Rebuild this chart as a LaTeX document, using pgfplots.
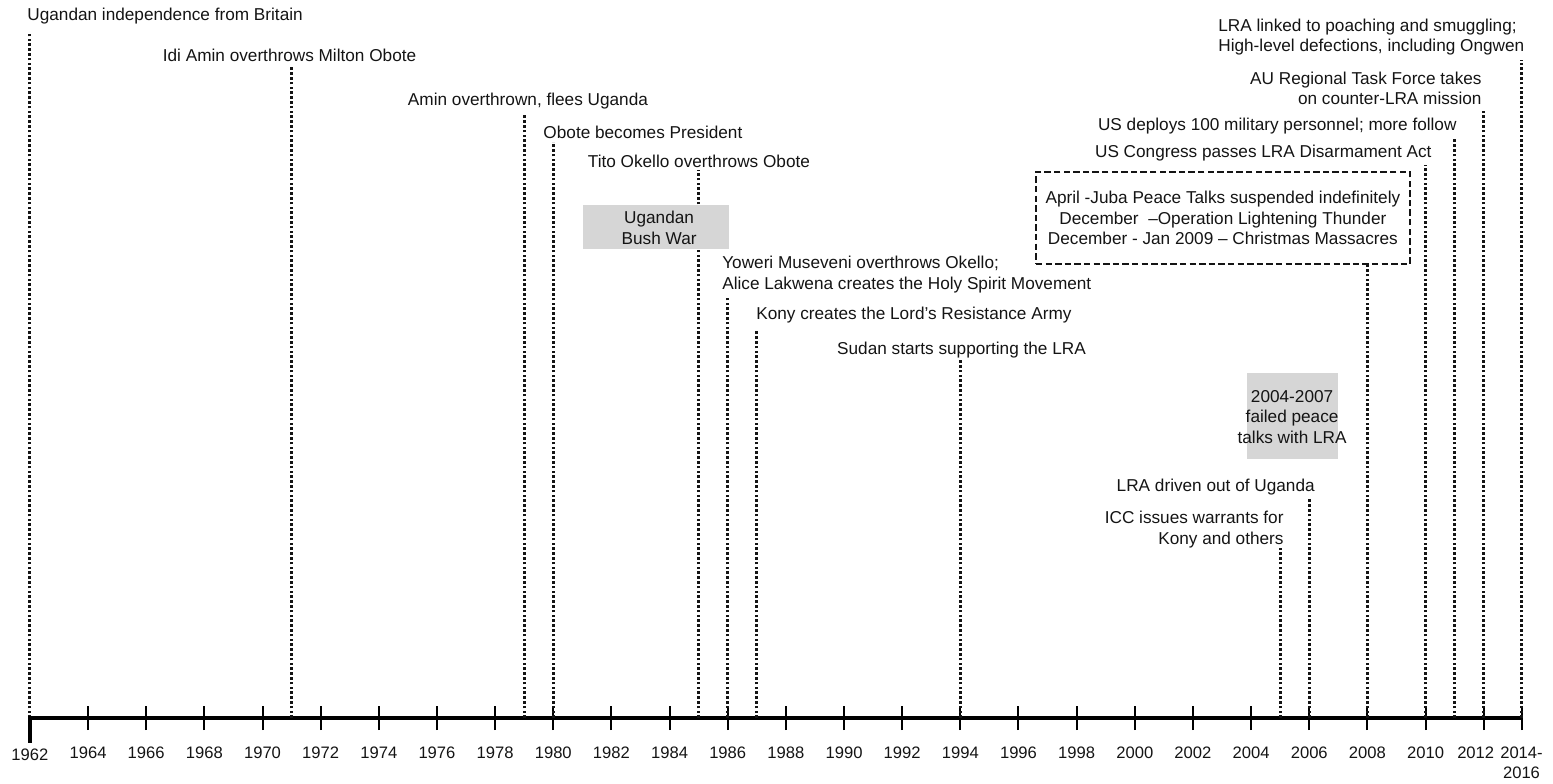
\documentclass[border=0pt]{standalone}
\usepackage{fontspec}
\setmainfont{Liberation Sans}
\usepackage{pgfplots}
\usepackage{pgfplotstable}
\pgfplotsset{compat=1.18}
\definecolor{txt}{HTML}{141414}
\definecolor{boxgray}{HTML}{D6D6D6}

\pgfplotstableread{
year h
1962 686
1971 651
1979 603
1980 576
1985 548
1986 422
1987 388
1994 358
2005 170
2006 220
2008 454
2010 553
2011 580
2012 608
2013.3 658
}\events

\begin{document}
\begin{tikzpicture}[ev/.style={font=\fontsize{8.6}{10.3}\selectfont, text=txt, inner sep=0pt}]
\begin{axis}[
  scale only axis, width=745.8pt, height=359pt,
  xmin=1962, xmax=2013.3, ymin=0, ymax=718,
  axis x line*=bottom, axis y line=none,
  clip=false,
  axis line style={line width=2.25pt, black, line cap=butt},
  xtick={1964,1966,1968,1970,1972,1974,1976,1978,1980,1982,1984,1986,1988,1990,1992,1994,1996,1998,2000,2002,2004,2006,2008,2010,2012,2013.3},
  xticklabels={1964,1966,1968,1970,1972,1974,1976,1978,1980,1982,1984,1986,1988,1990,1992,1994,1996,1998,2000,2002,2004,2006,2008,2010,{\hspace*{-8pt}2012},{2014-\\2016}},
  extra x ticks={1962},
  extra x tick labels={1962},
  extra x tick style={major tick length=0pt, xticklabel style={yshift=-7pt}},
  major tick length=12pt, tick align=center,
  tick style={line width=1pt, black},
  xticklabel style={font=\fontsize{8.3}{9.8}\selectfont, text=txt, anchor=north, inner sep=0pt, yshift=-8.5pt, align=center},
]
% event lines
\addplot[ycomb, mark=none, line width=1.5pt, dash pattern=on 1.3pt off 1.1pt, color=black!92] table[x=year,y=h]{\events};
% start stub
\addplot[mark=none, line width=2.25pt, black] coordinates {(1962,2) (1962,-25)};
% gray boxes
\addplot[fill=boxgray, draw=none] coordinates {(1981.02,469) (1986.04,469) (1986.04,513) (1981.02,513)} -- cycle;
\addplot[fill=boxgray, draw=none] coordinates {(2003.86,259) (2006.99,259) (2006.99,345) (2003.86,345)} -- cycle;
% dashed box
\addplot[draw=black!92, line width=1.1pt, dash pattern=on 3.2pt off 1.6pt] coordinates {(1996.60,454) (2009.47,454) (2009.47,546) (1996.60,546)} -- cycle;

% labels
\node[ev, anchor=west] at (axis cs:1961.90,702) {Ugandan independence from Britain};
\node[ev] at (axis cs:1970.93,663) {Idi Amin overthrows Milton Obote};
\node[ev] at (axis cs:1979.13,617) {Amin overthrown, flees Uganda};
\node[ev, anchor=west] at (axis cs:1979.65,586) {Obote becomes President};
\node[ev] at (axis cs:1985.01,557) {Tito Okello overthrows Obote};
\node[ev, align=center] at (axis cs:1983.64,490) {Ugandan\\Bush War};
\node[ev, anchor=west, align=left] at (axis cs:1985.80,443.5) {Yoweri Museveni overthrows Okello;\\Alice Lakwena creates the Holy Spirit Movement};
\node[ev, anchor=west] at (axis cs:1986.97,403) {Kony creates the Lord's Resistance Army};
\node[ev] at (axis cs:1994.04,368) {Sudan starts supporting the LRA};
\node[ev, align=center] at (axis cs:2003.03,500) {April -Juba Peace Talks suspended indefinitely\\December\ \ –Operation Lightening Thunder\\December - Jan 2009 – Christmas Massacres};
\node[ev, anchor=east] at (axis cs:2010.22,565) {US Congress passes LRA Disarmament Act};
\node[ev, anchor=east] at (axis cs:2011.08,592) {US deploys 100 military personnel; more follow};
\node[ev, anchor=east, align=right] at (axis cs:2011.94,629.5) {AU Regional Task Force takes\\on counter-LRA mission};
\node[ev, anchor=west, align=left] at (axis cs:2002.86,681) {LRA linked to poaching and smuggling;\\High-level defections, including Ongwen};
\node[ev, align=center] at (axis cs:2005.41,301) {2004-2007\\failed peace\\talks with LRA};
\node[ev, anchor=east] at (axis cs:2006.20,231) {LRA driven out of Uganda};
\node[ev, anchor=east, align=right] at (axis cs:2005.13,188.5) {ICC issues warrants for\\Kony and others};
\end{axis}
\pgfresetboundingbox
\path[use as bounding box] ([shift={(-14.95pt,-32.5pt)}]current axis.south west) rectangle ([shift={(15.75pt,0pt)}]current axis.north east);
\end{tikzpicture}
\end{document}
